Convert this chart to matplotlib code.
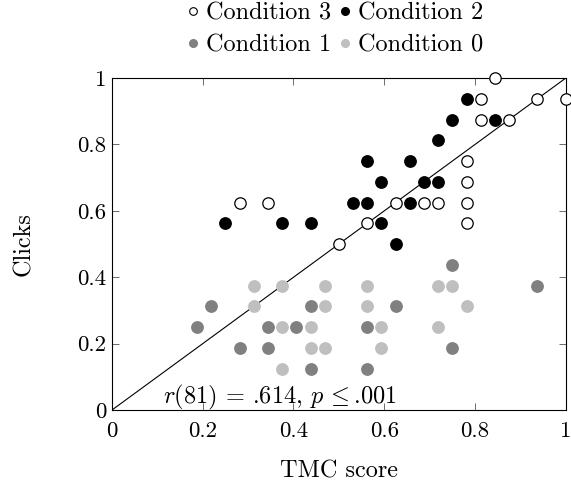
import matplotlib
matplotlib.use("Agg")
import matplotlib.pyplot as plt
from matplotlib.lines import Line2D

plt.rcParams['font.family'] = ['cmr10', 'DejaVu Serif']
plt.rcParams['mathtext.fontset'] = 'cm'
plt.rcParams['axes.formatter.use_mathtext'] = True
plt.rcParams['font.size'] = 17.5

# TMC score (x) and clicks (y) per condition
cond3_x = [0.28125, 0.34375, 0.5, 0.5625, 0.625, 0.6875, 0.71875, 0.78125, 0.78125,
           0.78125, 0.78125, 0.8125, 0.8125, 0.84375, 0.875, 0.9375, 1.0]
cond3_y = [0.625, 0.625, 0.5, 0.5625, 0.625, 0.625, 0.625, 0.5625, 0.625,
           0.6875, 0.75, 0.875, 0.9375, 1.0, 0.875, 0.9375, 0.9375]

cond2_x = [0.25, 0.375, 0.4375, 0.53125, 0.5625, 0.5625, 0.59375, 0.59375, 0.625,
           0.65625, 0.65625, 0.6875, 0.71875, 0.71875, 0.75, 0.78125, 0.84375]
cond2_y = [0.5625, 0.5625, 0.5625, 0.625, 0.625, 0.75, 0.5625, 0.6875, 0.5,
           0.625, 0.75, 0.6875, 0.6875, 0.8125, 0.875, 0.9375, 0.875]

cond1_x = [0.1875, 0.21875, 0.28125, 0.34375, 0.34375, 0.40625, 0.4375, 0.4375,
           0.5625, 0.5625, 0.625, 0.75, 0.75, 0.9375]
cond1_y = [0.25, 0.3125, 0.1875, 0.25, 0.1875, 0.25, 0.3125, 0.125,
           0.25, 0.125, 0.3125, 0.4375, 0.1875, 0.375]

cond0_x = [0.3125, 0.3125, 0.375, 0.375, 0.375, 0.4375, 0.4375, 0.46875, 0.46875,
           0.46875, 0.5625, 0.5625, 0.59375, 0.59375, 0.71875, 0.71875, 0.75, 0.78125]
cond0_y = [0.375, 0.3125, 0.375, 0.25, 0.125, 0.25, 0.1875, 0.375, 0.3125,
           0.1875, 0.375, 0.3125, 0.25, 0.1875, 0.375, 0.25, 0.375, 0.3125]

ticks = [0, 0.2, 0.4, 0.6, 0.8, 1]
tick_labels = ['0', '0.2', '0.4', '0.6', '0.8', '1']

fig = plt.figure(figsize=(5.71, 4.83), dpi=100)
ax = fig.add_axes([0.196, 0.151, 0.795, 0.6875])

ax.plot([0, 1], [0, 1], color='black', lw=0.8, zorder=1)

ms = 8.2
ax.plot(cond0_x, cond0_y, 'o', ls='none', ms=ms, mfc='#bfbfbf', mec='#bfbfbf', zorder=2, clip_on=False)
ax.plot(cond1_x, cond1_y, 'o', ls='none', ms=ms, mfc='#808080', mec='#808080', zorder=2, clip_on=False)
ax.plot(cond2_x, cond2_y, 'o', ls='none', ms=ms, mfc='black', mec='black', zorder=3, clip_on=False)
ax.plot(cond3_x, cond3_y, 'o', ls='none', ms=ms, mfc='white', mec='black', mew=0.9, zorder=4, clip_on=False)

ax.text(0.112, 0.02, r'$r$(81) = .614, $p\,\leq$.001', fontsize=17.5, va='baseline', ha='left')

ax.set_xlim(0, 1)
ax.set_ylim(0, 1)
ax.set_xticks(ticks)
ax.set_xticklabels(tick_labels)
ax.set_yticks(ticks)
ax.set_yticklabels(tick_labels)
ax.tick_params(direction='in', top=True, right=True, length=5, width=0.6,
               color='#555555', labelsize=16.5, pad=4)
ax.tick_params(axis='x', pad=8)
for s in ax.spines.values():
    s.set_linewidth(0.8)

ax.set_xlabel('TMC score', labelpad=14)
ax.set_ylabel('Clicks', labelpad=30)

handles = [
    Line2D([], [], marker='o', ls='none', ms=5.5, mfc='white', mec='black', mew=0.8),
    Line2D([], [], marker='o', ls='none', ms=5.5, mfc='#808080', mec='#808080'),
    Line2D([], [], marker='o', ls='none', ms=5.5, mfc='black', mec='black'),
    Line2D([], [], marker='o', ls='none', ms=5.5, mfc='#bfbfbf', mec='#bfbfbf'),
]
labels = ['Condition 3', 'Condition 1', 'Condition 2', 'Condition 0']
fig.legend(handles, labels, ncol=2, loc='upper center', bbox_to_anchor=(0.587, 1.04),
           frameon=False, handlelength=0.5, handletextpad=0.3, columnspacing=0.3,
           labelspacing=0.4, fontsize=17.5)

fig.savefig('out.png', dpi=100)
